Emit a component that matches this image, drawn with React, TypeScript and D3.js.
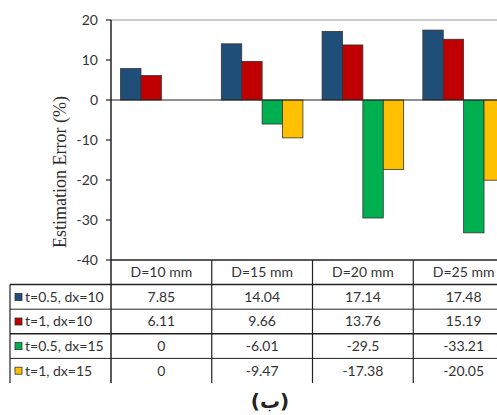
import { useRef, useEffect } from 'react';
import * as d3 from 'd3';

const categories = ['D=10 mm', 'D=15 mm', 'D=20 mm', 'D=25 mm'];
const seriesNames = ['t=0.5, dx=10', 't=1, dx=10', 't=0.5, dx=15', 't=1, dx=15'];
const seriesColors = ['#1F4E79', '#C00000', '#00B050', '#FFC000'];
const values = [
  [7.85, 14.04, 17.14, 17.48],
  [6.11, 9.66, 13.76, 15.19],
  [0, -6.01, -29.5, -33.21],
  [0, -9.47, -17.38, -20.05],
];
const cellLabels = [
  ['7.85', '14.04', '17.14', '17.48'],
  ['6.11', '9.66', '13.76', '15.19'],
  ['0', '-6.01', '-29.5', '-33.21'],
  ['0', '-9.47', '-17.38', '-20.05'],
];
const yTicks = [20, 10, 0, -10, -20, -30, -40];

const W = 497;
const H = 415;
const sans = 'Lato, "Open Sans", sans-serif';

export default function App() {
  const svgRef = useRef<SVGSVGElement | null>(null);

  useEffect(() => {
    const svg = d3.select(svgRef.current);
    svg.selectAll('*').remove();

    const left = 111, right = 514, top = 20, bottom = 260;

    // 類別與系列的 scale
    const x = d3.scaleBand<string>().domain(categories).range([left, right]);
    const xs = d3.scaleBand<string>().domain(seriesNames).range([0, x.bandwidth()]).paddingOuter(0.47);
    const y = d3.scaleLinear().domain([-40, 20]).range([bottom, top]);

    // 上方灰線
    svg.append('line')
      .attr('x1', left).attr('x2', W).attr('y1', y(20)).attr('y2', y(20))
      .attr('stroke', '#9a9a9a').attr('stroke-width', 1);

    // bars
    seriesNames.forEach((s, si) => {
      categories.forEach((c, ci) => {
        const v = values[si][ci];
        if (v === 0) return;
        const bx = (x(c) ?? 0) + (xs(s) ?? 0);
        svg.append('rect')
          .attr('x', bx)
          .attr('y', Math.min(y(v), y(0)))
          .attr('width', xs.bandwidth())
          .attr('height', Math.abs(y(v) - y(0)))
          .attr('fill', seriesColors[si])
          .attr('stroke', '#333')
          .attr('stroke-width', 0.8);
      });
    });

    // zero line
    svg.append('line')
      .attr('x1', left).attr('x2', W).attr('y1', y(0)).attr('y2', y(0))
      .attr('stroke', '#222').attr('stroke-width', 1.2);

    // y axis
    svg.append('line')
      .attr('x1', left).attr('x2', left).attr('y1', top).attr('y2', 383)
      .attr('stroke', '#222').attr('stroke-width', 1.5);
    yTicks.forEach(t => {
      svg.append('line')
        .attr('x1', left - 5).attr('x2', left).attr('y1', y(t)).attr('y2', y(t))
        .attr('stroke', '#222').attr('stroke-width', 1.2);
      svg.append('text')
        .attr('x', 98).attr('y', y(t)).attr('dy', '0.35em')
        .attr('text-anchor', 'end')
        .style('font-family', sans).style('font-size', '14px').attr('fill', '#333')
        .text(String(t));
    });

    svg.append('text')
      .attr('transform', `translate(66, ${172}) rotate(-90)`)
      .attr('text-anchor', 'middle')
      .style('font-family', '"Liberation Serif", "DejaVu Serif", serif')
      .style('font-size', '18px').attr('fill', '#2a2a2a')
      .text('Estimation Error (%)');

    // table
    const rows = d3.scaleBand<string>().domain(['header', ...seriesNames]).range([bottom, 383]);
    const tableLeft = 10;

    // horizontal lines
    svg.append('line')
      .attr('x1', left).attr('x2', W).attr('y1', bottom).attr('y2', bottom)
      .attr('stroke', '#222').attr('stroke-width', 1.5);
    seriesNames.forEach((s, i) => {
      const ry = rows(s) ?? 0;
      svg.append('line')
        .attr('x1', tableLeft).attr('x2', W).attr('y1', ry).attr('y2', ry)
        .attr('stroke', '#222').attr('stroke-width', i % 2 === 0 ? 1.5 : 1);
    });
    // vertical lines
    svg.append('line')
      .attr('x1', tableLeft).attr('x2', tableLeft).attr('y1', rows(seriesNames[0]) ?? 0).attr('y2', 383)
      .attr('stroke', '#222').attr('stroke-width', 1.2);
    categories.forEach(c => {
      const cx = (x(c) ?? 0) + x.bandwidth();
      svg.append('line')
        .attr('x1', cx).attr('x2', cx).attr('y1', bottom).attr('y2', 383)
        .attr('stroke', '#222').attr('stroke-width', 1.2);
    });

    // header
    categories.forEach(c => {
      svg.append('text')
        .attr('x', (x(c) ?? 0) + x.bandwidth() / 2)
        .attr('y', (rows('header') ?? 0) + rows.bandwidth() / 2).attr('dy', '0.35em')
        .attr('text-anchor', 'middle')
        .style('font-family', sans).style('font-size', '14px').attr('fill', '#333')
        .text(c);
    });

    // rows
    seriesNames.forEach((s, si) => {
      const cy = (rows(s) ?? 0) + rows.bandwidth() / 2;
      svg.append('rect')
        .attr('x', 15).attr('y', cy - 3.5).attr('width', 7).attr('height', 7)
        .attr('fill', seriesColors[si]).attr('stroke', '#333').attr('stroke-width', 0.8);
      svg.append('text')
        .attr('x', 25).attr('y', cy).attr('dy', '0.35em')
        .style('font-family', sans).style('font-size', '14px').attr('fill', '#333')
        .text(s);
      categories.forEach((c, ci) => {
        svg.append('text')
          .attr('x', (x(c) ?? 0) + x.bandwidth() / 2)
          .attr('y', cy).attr('dy', '0.35em')
          .attr('text-anchor', 'middle')
          .style('font-family', sans).style('font-size', '14px').attr('fill', '#333')
          .text(cellLabels[si][ci]);
      });
    });

    // caption
    svg.append('text')
      .attr('x', 270).attr('y', 401).attr('dy', '0.35em')
      .attr('text-anchor', 'middle')
      .style('font-family', '"DejaVu Sans", sans-serif').style('font-size', '20px')
      .style('font-weight', 'bold').attr('fill', '#222')
      .text('(ب)');
  }, []);

  return (
    <svg ref={svgRef} width={W} height={H}
      style={{ position: 'absolute', left: 0, top: 0, background: '#fff' }} />
  );
}
